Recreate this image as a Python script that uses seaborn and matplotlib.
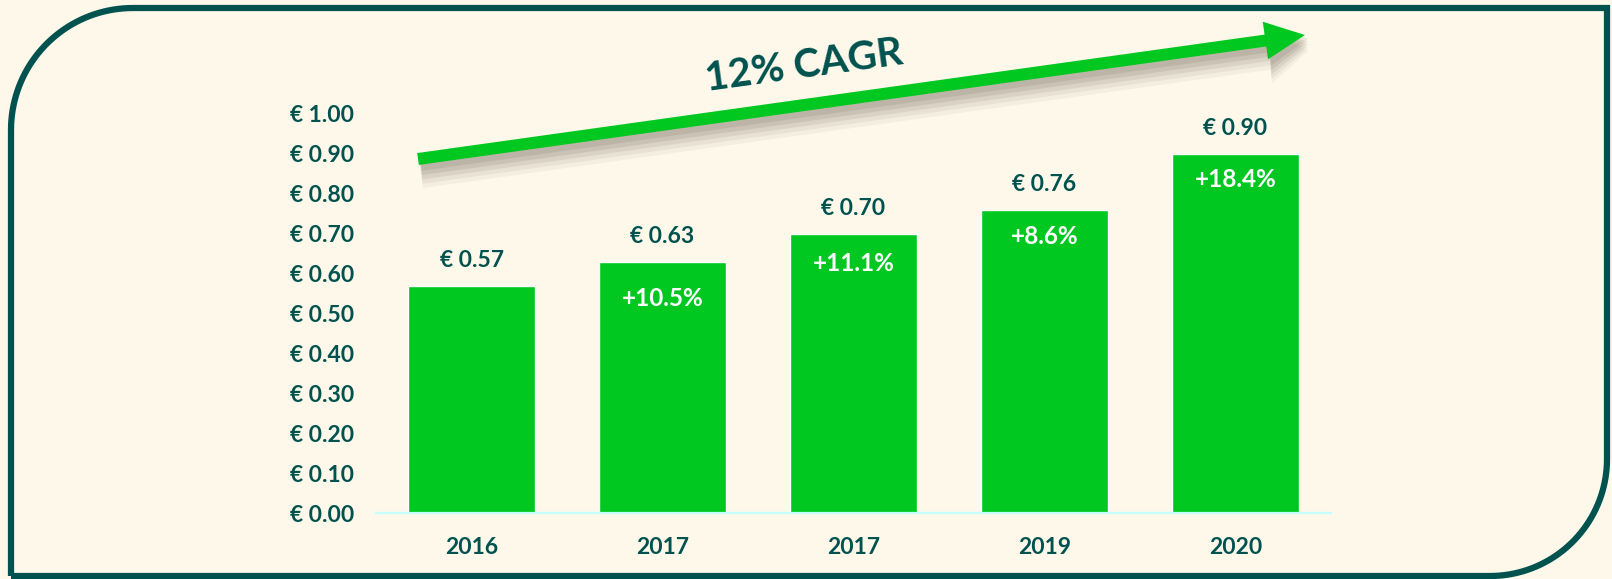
import matplotlib
matplotlib.use("Agg")
import matplotlib.pyplot as plt
import numpy as np
import pandas as pd
import seaborn as sns
from matplotlib.patches import FancyArrow

# chart data
years = ["2016", "2017", "2017", "2019", "2020"]
dividends = [0.57, 0.63, 0.70, 0.76, 0.90]
growth = ["", "+10.5%", "+11.1%", "+8.6%", "+18.4%"]
cagr_label = "12% CAGR"
y_ticks = [0.0, 0.1, 0.2, 0.3, 0.4, 0.5, 0.6, 0.7, 0.8, 0.9, 1.0]

# style
BG = "#FEF8EB"
TEAL = "#00524F"
GREEN = "#00C820"
AXIS_LINE = "#C4FFFF"
W, H = 1612, 579

sns.set_style("white")
plt.rcParams["font.family"] = ["Lato", "DejaVu Sans"]
plt.rcParams["font.weight"] = "bold"

fig = plt.figure(figsize=(W / 100, H / 100), dpi=100, facecolor=BG)

# main bar axes (placed in pixel terms)
left, right, bottom, top = 376, 1331, 513, 114
ax = fig.add_axes([left / W, (H - bottom) / H, (right - left) / W, (bottom - top) / H])
ax.set_facecolor("none")

df = pd.DataFrame({"slot": range(len(years)), "value": dividends})
sns.barplot(data=df, x="slot", y="value", color=GREEN, saturation=1,
            width=0.67, ax=ax)

ax.set_xlim(-0.5, len(years) - 0.5)
ax.set_ylim(0, 1.0)
ax.set_yticks(y_ticks)
ax.set_yticklabels([f"€ {v:.2f}" for v in y_ticks])
ax.set_xticks(range(len(years)))
ax.set_xticklabels(years)
ax.set_xlabel("")
ax.set_ylabel("")
ax.tick_params(axis="both", length=0, labelsize=16.5, labelcolor=TEAL)
ax.tick_params(axis="y", pad=16)
ax.tick_params(axis="x", pad=17)
for lab in ax.get_xticklabels() + ax.get_yticklabels():
    lab.set_fontweight("bold")

for side in ["top", "right", "left"]:
    ax.spines[side].set_visible(False)
ax.spines["bottom"].set_color(AXIS_LINE)
ax.spines["bottom"].set_linewidth(1.6)

# labels above and inside the bars
pct_offsets = [0, 0.093, 0.075, 0.068, 0.063]
for i, (v, g) in enumerate(zip(dividends, growth)):
    ax.annotate(f"€ {v:.2f}", (i, v), xytext=(0, 18), textcoords="offset points",
                ha="center", va="center", fontsize=16.5, fontweight="bold", color=TEAL)
    if g:
        ax.text(i, v - pct_offsets[i], g, ha="center", va="center",
                fontsize=17.5, fontweight="bold", color="white")

# overlay in pixel coordinates for the frame and the arrow
ov = fig.add_axes([0, 0, 1, 1], zorder=5)
ov.set_xlim(0, W)
ov.set_ylim(H, 0)
ov.axis("off")
ov.patch.set_alpha(0)

# frame: rounded top-left and bottom-right corners
r1, r2 = 122, 117
xl, xr, yt, yb = 11, 1607, 8, 576
t = np.linspace(0, np.pi / 2, 40)
pts = [(xl, yb), (xl, yt + r1)]
pts += list(zip(xl + r1 - r1 * np.cos(t), yt + r1 - r1 * np.sin(t)))
pts += [(xr, yt), (xr, yb - r2)]
pts += list(zip(xr - r2 + r2 * np.cos(t), yb - r2 + r2 * np.sin(t)))
pts += [(xl, yb)]
px, py = zip(*pts)
ov.plot(px, py, color=TEAL, lw=4.5, solid_joinstyle="miter", solid_capstyle="butt")

# growth arrow with a soft shadow
x0, y0, x1, y1 = 418, 159, 1305, 35
dx, dy = x1 - x0, y1 - y0
for k, a in [(16, 0.06), (13, 0.08), (10, 0.1), (7, 0.12), (4, 0.12)]:
    ov.add_patch(FancyArrow(x0 + 3, y0 + k, dx, dy, width=12 + k * 0.9,
                            head_width=38 + k, head_length=40,
                            length_includes_head=True, color="#5e5442",
                            alpha=a, lw=0))
ov.add_patch(FancyArrow(x0, y0, dx, dy, width=12, head_width=38,
                        head_length=40, length_includes_head=True,
                        color=GREEN, lw=0))

ov.text(804, 66, cagr_label, rotation=7.8, ha="center", va="center",
        fontsize=29, fontweight="bold", color=TEAL, rotation_mode="anchor")

fig.savefig("out.png", dpi=100, facecolor=BG)
